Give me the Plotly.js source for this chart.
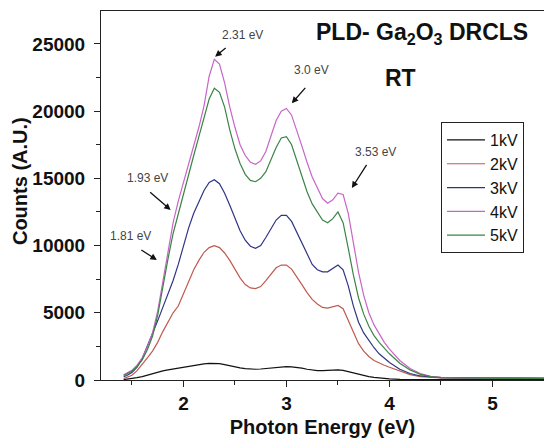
<!DOCTYPE html>
<html>
<head>
<meta charset="utf-8">
<script src="https://cdn.plot.ly/plotly-3.0.1.min.js"></script>
<style>html,body{margin:0;padding:0;background:#fff;}#chart{width:544px;height:438px;}</style>
</head>
<body>
<div id="chart"></div>
<script>
const energy = [1.42,1.45,1.50,1.55,1.60,1.65,1.70,1.75,1.80,1.85,1.90,1.95,2.00,2.05,2.10,2.15,2.20,2.25,2.30,2.35,2.40,2.45,2.50,2.55,2.60,2.65,2.70,2.75,2.80,2.85,2.90,2.95,3.00,3.05,3.10,3.15,3.20,3.25,3.30,3.35,3.40,3.45,3.50,3.55,3.60,3.65,3.70,3.75,3.80,3.85,3.90,3.95,4.00,4.10,4.20,4.30,4.40,4.50,4.75,5.00,5.25,5.50];

const kv1 = [30,50,100,170,250,370,480,580,680,750,820,880,950,1020,1100,1150,1200,1240,1250,1220,1150,1050,950,900,850,820,800,820,850,900,950,990,1000,980,950,880,800,740,700,700,720,740,750,720,620,500,400,320,250,200,150,110,80,50,40,30,30,30,30,30,30,30];

const kv2 = [100,180,350,700,1150,1650,2150,2800,3600,4300,5000,5500,6400,7300,8200,8900,9500,9850,10000,9850,9450,8900,8200,7600,7100,6850,6800,6950,7400,7900,8350,8550,8550,8250,7700,7100,6500,6000,5650,5400,5350,5450,5550,5300,4400,3500,2700,2150,1750,1450,1250,1100,950,650,400,250,180,150,140,130,130,120];

const kv3 = [250,330,550,950,1600,2500,3400,4400,5400,6400,7400,8600,10000,11300,12400,13300,14100,14700,14900,14600,13900,13000,12000,11100,10400,9950,9800,10000,10600,11300,11900,12250,12250,11800,11000,10200,9400,8600,8200,8050,8050,8300,8550,8200,7000,5500,4300,3500,2900,2400,1950,1600,1300,800,480,300,210,170,160,160,150,150];

const kv4 = [380,500,720,1100,1650,2450,3500,5100,7300,9500,11700,13300,14700,15900,17300,18800,20400,22600,23850,23500,22100,20300,18800,17500,16700,16200,16050,16300,17000,18100,19300,20000,20200,19700,18600,17400,16200,15100,14300,13500,13150,13400,13900,13800,12400,10200,8000,6300,5000,4100,3400,2800,2300,1450,850,480,270,190,150,140,130,120];

const kv5 = [330,440,650,1000,1500,2250,3250,4800,7000,9000,10900,12400,13900,15300,16700,18100,19600,20900,21700,21400,20300,18600,17200,16100,15300,14850,14750,15000,15500,16400,17300,18000,18100,17500,16300,15100,14000,13100,12500,11900,11700,12000,12500,11700,9800,7800,6100,4900,4000,3300,2800,2350,1950,1250,750,420,250,170,140,130,120,110];

const seriesNames = ["1kV","2kV","3kV","4kV","5kV"];
const seriesColors = ["#111111","#bf5a50","#2f3485","#c865c8","#3b8446"];
const seriesData = [kv1, kv2, kv3, kv4, kv5];

// peak labels: text, label position, arrow head position, arrow tail offset (px)
const peakLabels = ["2.31 eV","3.0 eV","3.53 eV","1.93 eV","1.81 eV"];
const labelX = [2.575, 3.24, 3.866, 1.648, 1.483];
const labelY = [25670, 23065, 16960, 15030, 10714];
const arrowX = [2.308, 3.052, 3.635, 1.876, 1.742];
const arrowY = [24055, 20590, 14290, 12650, 8930];
const arrowAX = [12, 15, 16, -22, -17];
const arrowAY = [-10, -17, -25, -19, -11];

const traces = seriesNames.map((n, i) => ({
  x: energy, y: seriesData[i], name: n, type: "scatter", mode: "lines",
  line: {color: seriesColors[i], width: 1.2}
}));

const F = "Liberation Sans, Arial, sans-serif";
const annotations = [];
peakLabels.forEach((t, i) => {
  annotations.push({x: labelX[i], y: labelY[i], xref: "x", yref: "y", text: t, showarrow: false,
    xanchor: "center", yanchor: "middle",
    font: {family: F, size: 12, color: "#444"}});
  annotations.push({x: arrowX[i], y: arrowY[i], xref: "x", yref: "y", text: " ", showarrow: true,
    ax: arrowAX[i], ay: arrowAY[i], arrowhead: 2, arrowsize: 1, arrowwidth: 1.3, arrowcolor: "#111",
    standoff: 0, startstandoff: 0, font: {size: 1}});
});
annotations.push({x: 0.7235, y: 0.94, xref: "paper", yref: "paper", showarrow: false,
  xanchor: "center", yanchor: "middle",
  text: "PLD- Ga<sub>2</sub>O<sub>3</sub> DRCLS", font: {family: F, size: 23, color: "#111", weight: "bold"}});
annotations.push({x: 0.677, y: 0.818, xref: "paper", yref: "paper", showarrow: false,
  xanchor: "center", yanchor: "middle",
  text: "RT", font: {family: F, size: 23, color: "#111", weight: "bold"}});
annotations.push({x: -0.183, y: 0.539, xref: "paper", yref: "paper", showarrow: false, textangle: -90,
  xanchor: "center", yanchor: "middle",
  text: "Counts (A.U.)", font: {family: F, size: 20, color: "#111", weight: "bold"}});

const layout = {
  width: 544, height: 438,
  margin: {l: 101, r: 0, t: 11, b: 58},
  paper_bgcolor: "#fff", plot_bgcolor: "#fff",
  showlegend: true,
  legend: {x: 0.7675, y: 0.699, xanchor: "left", yanchor: "top", bgcolor: "#fff",
    bordercolor: "#222", borderwidth: 1, font: {family: F, size: 16, color: "#111"}, itemwidth: 38},
  xaxis: {
    range: [1.2, 5.5], showgrid: false, zeroline: false, showline: true, linecolor: "#222", linewidth: 1,
    mirror: true, ticks: "outside", ticklen: 6, tickcolor: "#222", dtick: 1, tick0: 0,
    minor: {dtick: 0.5, ticks: "outside", ticklen: 4, tickcolor: "#222"},
    tickfont: {family: F, size: 19, color: "#111", weight: "bold"},
    title: {text: "Photon Energy (eV)", font: {family: F, size: 20, color: "#111", weight: "bold"}, standoff: 7}
  },
  yaxis: {
    range: [0, 27450], showgrid: false, zeroline: false, showline: true, linecolor: "#222", linewidth: 1,
    ticks: "outside", ticklen: 6, tickcolor: "#222", dtick: 5000, tick0: 0, ticklabelstandoff: 5,
    tickformat: "d",
    minor: {dtick: 2500, ticks: "outside", ticklen: 4, tickcolor: "#222"},
    tickfont: {family: F, size: 19, color: "#111", weight: "bold"}
  },
  annotations: annotations
};

Plotly.newPlot("chart", traces, layout, {displayModeBar: false, staticPlot: true});
</script>
</body>
</html>
